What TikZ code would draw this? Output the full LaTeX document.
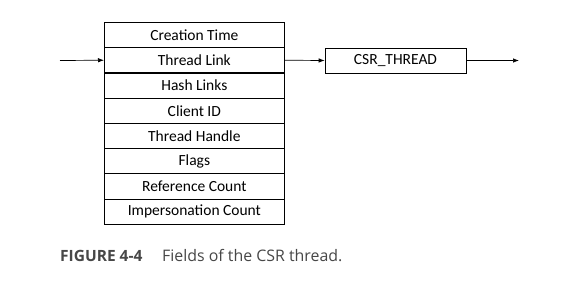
\documentclass[tikz,border=0pt]{standalone}
\usepackage{fontspec}
\setmainfont{Carlito}
\newfontfamily\capfont{Open Sans}
\usetikzlibrary{arrows.meta}
\begin{document}
\begin{tikzpicture}[x=1pt,y=-1pt,
  field/.style={draw=black,line width=0.7pt,minimum width=180pt,minimum height=25.25pt,
    inner sep=0pt,font=\fontsize{15.5}{17}\selectfont,anchor=north west},
  link/.style={line width=0.7pt,-{Latex[length=6pt,width=4.5pt]}},
  captext/.style={text=black!72,anchor=base west,inner sep=0pt}]
  \useasboundingbox (0,0) rectangle (585,288);
  \fill[white] (0,0) rectangle (585,288);
  % thread record fields
  \foreach \name/\txt [count=\i from 0] in {f0/Creation Time,f1/Thread Link,f2/Hash Links,
      f3/Client ID,f4/Thread Handle,f5/Flags,f6/Reference Count,f7/Impersonation Count}
    \node[field] (\name) at (104,{22+25.25*\i}) {\txt};
  \draw[line width=1.3pt] (f1.south west) -- (f1.south east);
  % CSR_THREAD box
  \node[draw=black,line width=0.7pt,minimum width=141pt,minimum height=25.25pt,inner sep=0pt,
    font=\fontsize{15.5}{17}\selectfont] (csr) at (395.5,60.5) {CSR\_THREAD};
  \coordinate (in) at (60,60.5);
  \coordinate (out) at (519,60.5);
  \draw[link] (in) -- (f1.west);
  \draw[link] (f1.east) -- (csr.west);
  \draw[link] (csr.east) -- (out);
  % caption
  \node[captext,font=\capfont\fontsize{15.5}{18}\selectfont\bfseries] (fig) at (60,261) {FIGURE 4-4};
  \node[captext,font=\capfont\fontsize{15.9}{18}\selectfont] (cap) at (162,261) {Fields of the CSR thread.};
\end{tikzpicture}
\end{document}
